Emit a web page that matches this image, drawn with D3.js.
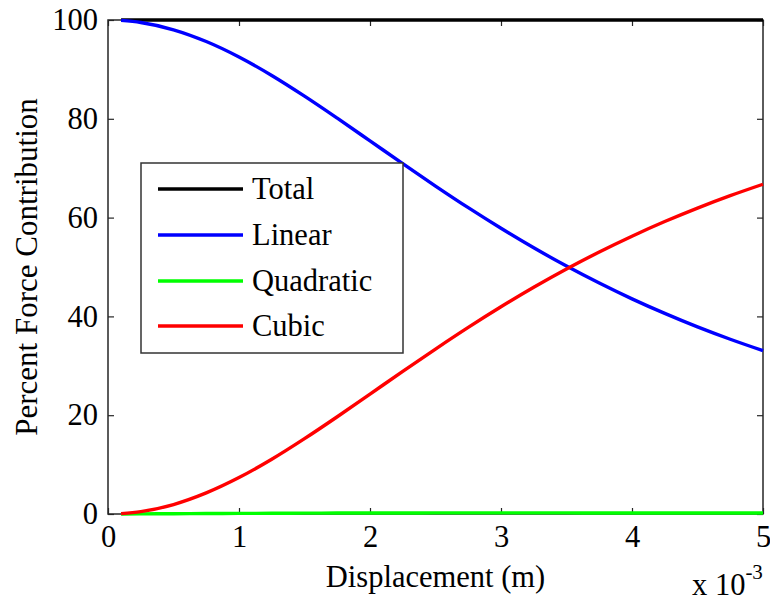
<!DOCTYPE html>
<html>
<head>
<meta charset="utf-8">
<script src="https://cdn.jsdelivr.net/npm/d3@7"></script>
<style>
  html, body { margin: 0; padding: 0; background: #fff; }
  svg { display: block; }
  text { font-family: "Liberation Serif", "Times New Roman", serif; fill: #000; }
</style>
</head>
<body>
<svg id="chart" width="770" height="602"></svg>
<script>
// Displacement in units of 1e-3 m
const displacement = [0.1, 0.25, 0.5, 0.75, 1.0, 1.25, 1.5, 1.75, 2.0, 2.25, 2.5,
                      2.75, 3.0, 3.25, 3.5, 3.75, 4.0, 4.25, 4.5, 4.75, 5.0];
// Percent of total force from each term
const total     = [100, 100, 100, 100, 100, 100, 100, 100, 100, 100, 100,
                   100, 100, 100, 100, 100, 100, 100, 100, 100, 100];
const linear    = [99.92, 99.50, 98.02, 95.64, 92.51, 88.77, 84.58, 80.12, 75.53, 70.92, 66.39,
                   62.01, 57.84, 53.89, 50.19, 46.75, 43.55, 40.60, 37.87, 35.37, 33.06];
const quadratic = [0.01, 0.03, 0.06, 0.09, 0.12, 0.15, 0.17, 0.19, 0.20, 0.21, 0.22,
                   0.22, 0.22, 0.22, 0.22, 0.21, 0.21, 0.20, 0.20, 0.19, 0.19];
const cubic     = [0.07, 0.47, 1.92, 4.27, 7.37, 11.08, 15.25, 19.69, 24.27, 28.87, 33.39,
                   37.77, 41.94, 45.89, 49.59, 53.04, 56.24, 59.20, 61.93, 64.44, 66.75];

const seriesNames  = ["Total", "Linear", "Quadratic", "Cubic"];
const seriesColors = ["#000000", "#0000ff", "#00ff00", "#ff0000"];
const seriesValues = [total, linear, quadratic, cubic];

const xTicks = [0, 1, 2, 3, 4, 5];
const yTicks = [0, 20, 40, 60, 80, 100];

const svg = d3.select("#chart");
const margin = { left: 108, right: 7, top: 20, bottom: 88 };
const W = 770, H = 602;
const x = d3.scaleLinear().domain([0, 5]).range([margin.left, W - margin.right]);
const y = d3.scaleLinear().domain([0, 100]).range([H - margin.bottom, margin.top]);

const fontSize = 30.5;
const axisColor = "#262626";

// Bottom and left axes with inward ticks and labels
const gx = svg.append("g")
  .attr("transform", `translate(0,${y(0)})`)
  .call(d3.axisBottom(x).tickValues(xTicks).tickFormat(d3.format("d")).tickSizeInner(-6).tickSizeOuter(0).tickPadding(12));
const gy = svg.append("g")
  .attr("transform", `translate(${x(0)},0)`)
  .call(d3.axisLeft(y).tickValues(yTicks).tickFormat(d3.format("d")).tickSizeInner(-6).tickSizeOuter(0).tickPadding(10));
// Top and right ticks (box style)
const gxt = svg.append("g")
  .attr("transform", `translate(0,${y(100)})`)
  .call(d3.axisTop(x).tickValues(xTicks).tickFormat("").tickSizeInner(-6).tickSizeOuter(0));
const gyr = svg.append("g")
  .attr("transform", `translate(${x(5)},0)`)
  .call(d3.axisRight(y).tickValues(yTicks).tickFormat("").tickSizeInner(-6).tickSizeOuter(0));

[gx, gy, gxt, gyr].forEach(g => {
  g.select(".domain").remove();
  g.selectAll(".tick line").attr("stroke", axisColor).attr("stroke-width", 1.2);
  g.selectAll(".tick text")
    .style("font-family", '"Liberation Serif", "Times New Roman", serif')
    .style("font-size", fontSize + "px")
    .attr("fill", "#000");
});
gx.selectAll(".tick text").attr("dy", "0.68em");

// Axes box
svg.append("rect")
  .attr("x", x(0)).attr("y", y(100))
  .attr("width", x(5) - x(0)).attr("height", y(0) - y(100))
  .attr("fill", "none").attr("stroke", axisColor).attr("stroke-width", 1.5);

// Data lines
const line = d3.line()
  .x((d, i) => x(displacement[i]))
  .y(d => y(d))
  .curve(d3.curveMonotoneX);

seriesValues.forEach((vals, k) => {
  svg.append("path")
    .datum(vals)
    .attr("d", line)
    .attr("fill", "none")
    .attr("stroke", seriesColors[k])
    .attr("stroke-width", 3.4)
    .attr("stroke-linejoin", "round");
});

// Axis titles
svg.append("text")
  .attr("x", (x(0) + x(5)) / 2).attr("y", 587)
  .attr("text-anchor", "middle")
  .style("font-size", fontSize + "px")
  .text("Displacement (m)");

svg.append("text")
  .attr("transform", `translate(37,${(y(0) + y(100)) / 2}) rotate(-90)`)
  .attr("text-anchor", "middle")
  .style("font-size", "31px")
  .text("Percent Force Contribution");

// Exponent label
const exp = svg.append("text")
  .attr("x", 692).attr("y", 595)
  .style("font-size", fontSize + "px");
exp.append("tspan").text("x 10");
exp.append("tspan").attr("dy", -16).style("font-size", "21px").text("-3");

// Legend
const legend = svg.append("g");
legend.append("rect")
  .attr("x", 141).attr("y", 163).attr("width", 262).attr("height", 190)
  .attr("fill", "#fff").attr("stroke", "#333").attr("stroke-width", 1.5);
const rowY = [189, 235, 281, 326];
seriesNames.forEach((name, k) => {
  legend.append("line")
    .attr("x1", 158).attr("x2", 243)
    .attr("y1", rowY[k]).attr("y2", rowY[k])
    .attr("stroke", seriesColors[k]).attr("stroke-width", 3.4);
  legend.append("text")
    .attr("x", 252).attr("y", rowY[k])
    .attr("dy", "0.33em")
    .style("font-size", fontSize + "px")
    .text(name);
});
</script>
</body>
</html>
